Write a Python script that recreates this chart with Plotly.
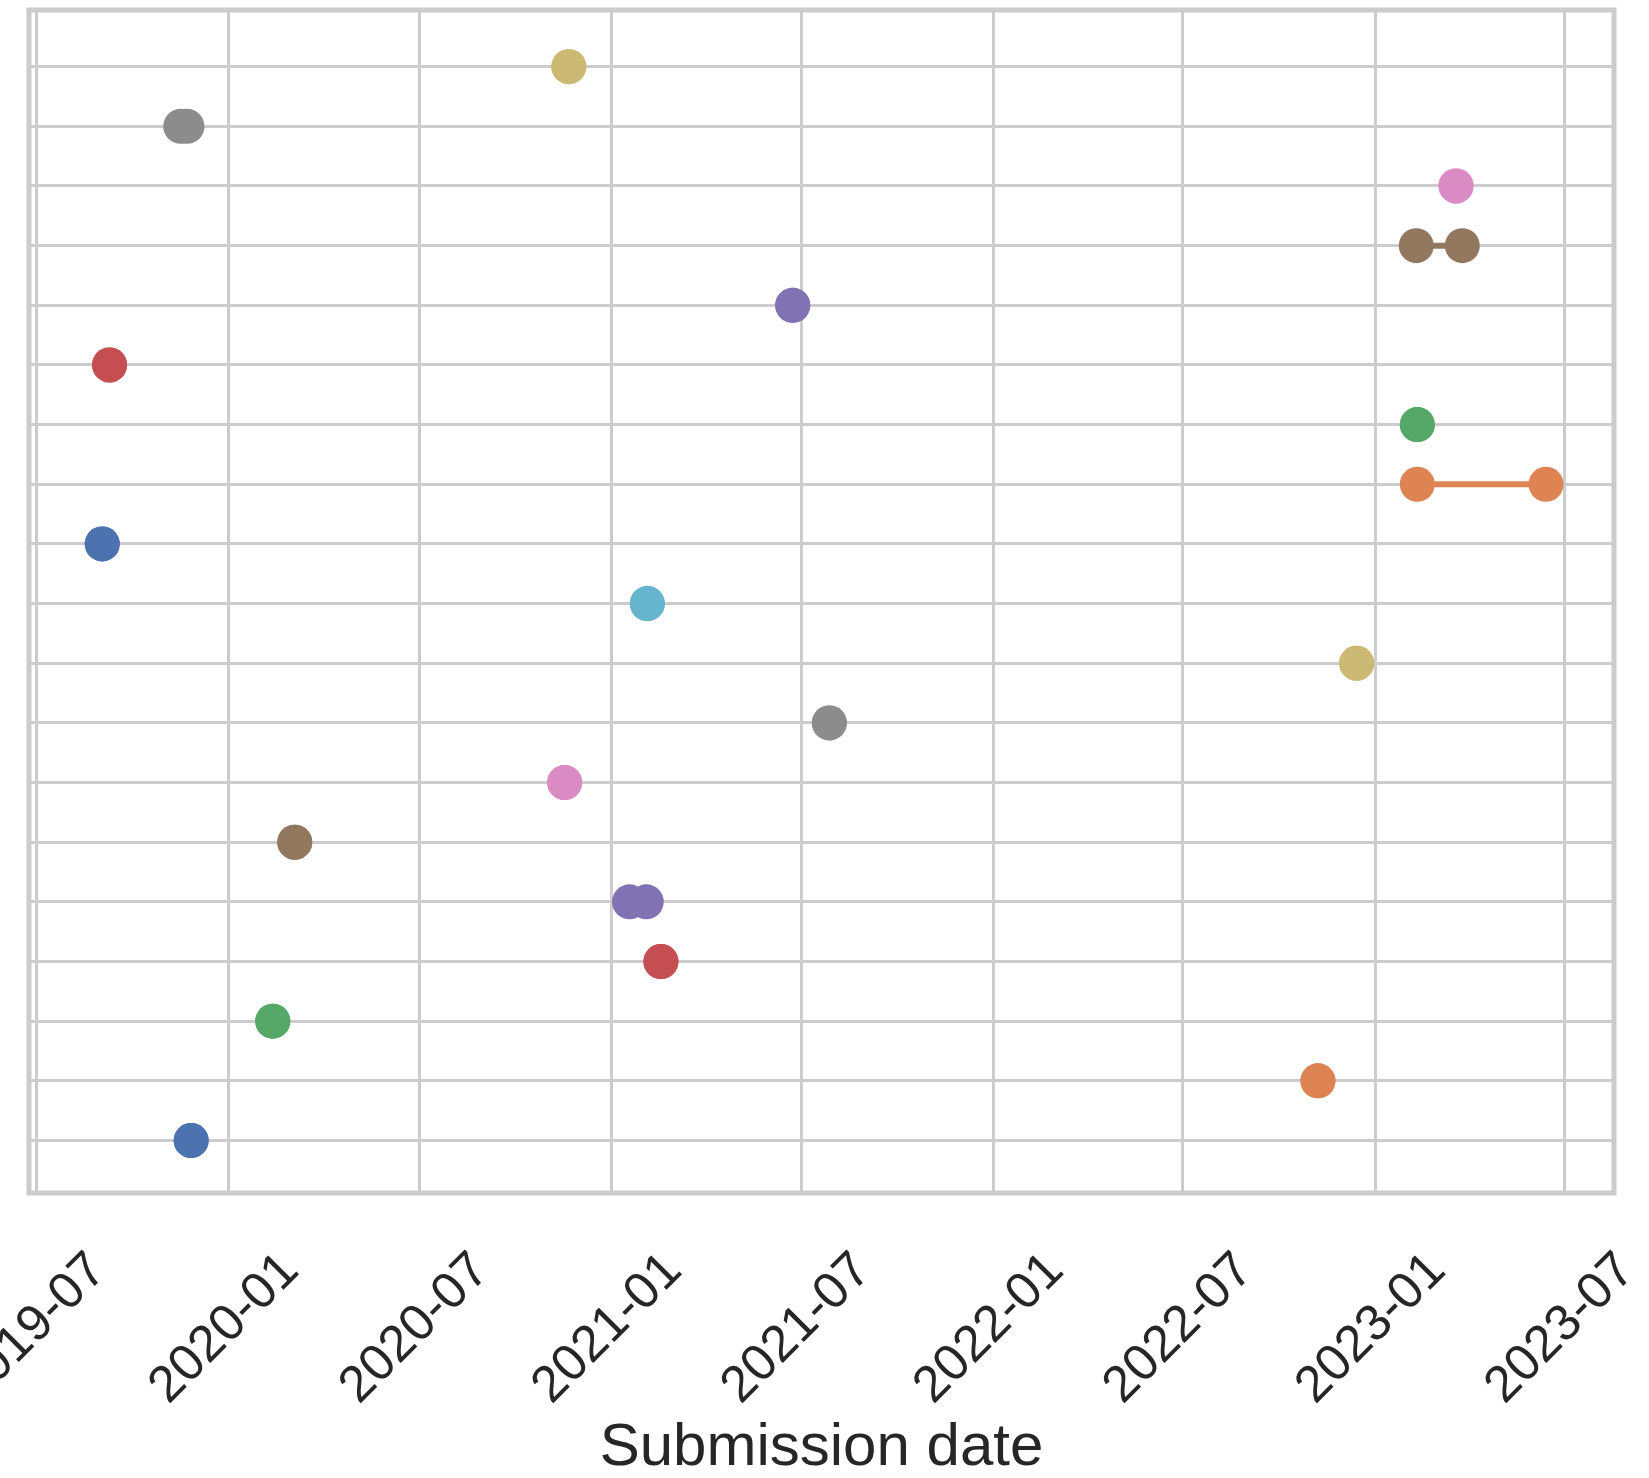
import plotly.graph_objects as go

# ---- data ----
row_positions = [0, 1, 2, 3, 4, 5, 6, 7, 8, 9, 10, 11, 12, 13, 14, 15, 16, 17, 18]
start_dates = [
    "2019-11-26", "2022-11-07", "2020-02-12", "2021-02-17", "2021-01-18",
    "2020-03-04", "2020-11-17", "2021-07-28", "2022-12-14", "2021-02-04",
    "2019-09-02", "2023-02-10", "2023-02-10", "2019-09-09", "2021-06-23",
    "2023-02-09", "2023-03-19", "2019-11-16", "2020-11-21",
]
end_dates = [
    "2019-11-26", "2022-11-07", "2020-02-12", "2021-02-17", "2021-02-03",
    "2020-03-04", "2020-11-17", "2021-07-28", "2022-12-14", "2021-02-04",
    "2019-09-02", "2023-06-13", "2023-02-10", "2019-09-09", "2021-06-23",
    "2023-03-25", "2023-03-19", "2019-11-22", "2020-11-21",
]
palette = ["#4C72B0", "#DD8452", "#55A868", "#C44E52", "#8172B3",
           "#937860", "#DA8BC3", "#8C8C8C", "#CCB974", "#64B5CD"]
tick_dates = ["2019-07-01", "2020-01-01", "2020-07-01", "2021-01-01", "2021-07-01",
              "2022-01-01", "2022-07-01", "2023-01-01", "2023-07-01"]
tick_labels = ["2019-07", "2020-01", "2020-07", "2021-01", "2021-07",
               "2022-01", "2022-07", "2023-01", "2023-07"]
x_range = ["2019-06-24", "2023-08-17"]
y_range = [-0.88, 18.95]

FONT = "Liberation Sans, Arial, sans-serif"
TEXT = "#262626"
GRID = "#cccccc"

fig = go.Figure()
for i, (y, s, e) in enumerate(zip(row_positions, start_dates, end_dates)):
    c = palette[i % len(palette)]
    fig.add_trace(go.Scatter(
        x=[s, e], y=[y, y], mode="lines+markers",
        line=dict(color=c, width=6),
        marker=dict(color=c, size=35, line=dict(width=0)),
        showlegend=False, hoverinfo="x",
    ))

fig.update_layout(
    width=1649, height=1478,
    margin=dict(l=29, r=35, t=10, b=285, autoexpand=False),
    paper_bgcolor="white", plot_bgcolor="white",
    font=dict(family=FONT, color=TEXT),
    shapes=[dict(type="rect", xref="paper", yref="paper", x0=0, x1=1, y0=0, y1=1,
                 line=dict(color=GRID, width=5), layer="above")],
)
fig.update_xaxes(
    type="date", range=x_range,
    tickmode="array", tickvals=tick_dates, ticktext=tick_labels,
    tickangle=-45, tickfont=dict(size=51, family=FONT, color=TEXT),
    ticks="", ticklabelshift=54, ticklabelstandoff=35, ticklabeloverflow="allow",
    showgrid=True, gridcolor=GRID, gridwidth=2.5, zeroline=False,
    showline=False, automargin=False,
    title=dict(text="Submission date", font=dict(size=60, family=FONT, color=TEXT), standoff=38),
)
fig.update_yaxes(
    range=y_range, tickmode="linear", tick0=0, dtick=1,
    showticklabels=False, ticks="",
    showgrid=True, gridcolor=GRID, gridwidth=2.5, zeroline=False,
    showline=False, automargin=False,
)

fig.write_html(
    "out.html",
    config={"displayModeBar": False},
    post_script="document.body.style.margin='0';document.body.style.overflow='hidden';",
)
